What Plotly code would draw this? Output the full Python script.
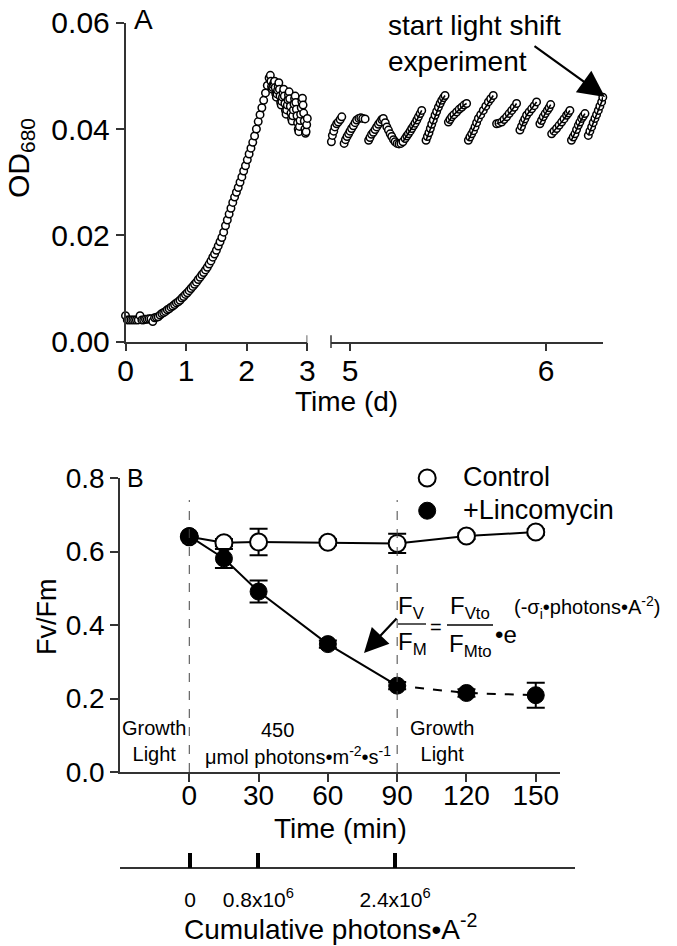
import plotly.graph_objects as go

W, H = 677, 946
def px(x): return x / W
def py(y): return 1 - y / H

# ---------------- Panel A data ----------------
seg1_t = [0.00,0.03,0.06,0.09,0.12,0.15,0.18,0.21,0.24,0.27,0.30,0.33,0.36,0.39,0.42,0.45,0.48,0.51,0.54,0.57,
          0.60,0.63,0.66,0.69,0.72,0.75,0.78,0.81,0.84,0.87,0.90,0.93,0.96,0.99,1.02,1.05,1.08,1.11,1.14,1.17,
          1.20,1.23,1.26,1.29,1.32,1.35,1.38,1.41,1.44,1.47,1.50,1.53,1.56,1.59,1.62,1.65,1.68,1.71,1.74,1.77,
          1.80,1.83,1.86,1.89,1.92,1.95,1.98,2.01,2.04,2.07,2.10,2.13,2.16,2.19,2.22,2.25,2.28,2.31,2.34,2.37,2.39,
          2.40,2.41,2.42,2.43,2.44,2.45,2.46,2.47,2.48,2.49,2.50,2.51,2.52,2.53,2.54,2.55,2.56,2.57,2.58,2.59,
          2.60,2.61,2.62,2.63,2.64,2.65,2.66,2.67,2.68,2.69,2.70,2.71,2.72,2.73,2.74,2.75,2.76,2.77,2.78,2.79,
          2.80,2.81,2.82,2.83,2.84,2.85,2.86,2.87,2.88,2.89,2.90,2.91,2.92,2.93,2.94,2.95,2.96,2.97,2.98,2.99,3.00]
seg1_od = [0.0049,0.0041,0.0041,0.0041,0.0041,0.0041,0.0041,0.0041,0.0049,0.0041,0.0041,0.0042,0.0042,0.0043,0.0043,0.0038,0.0045,0.0046,0.0047,0.0050,
           0.0053,0.0055,0.0057,0.0060,0.0062,0.0065,0.0067,0.0070,0.0073,0.0075,0.0078,0.0082,0.0085,0.0089,0.0092,0.0096,0.0100,0.0104,0.0108,0.0112,
           0.0117,0.0121,0.0126,0.0130,0.0135,0.0140,0.0146,0.0152,0.0159,0.0165,0.0172,0.0180,0.0188,0.0196,0.0206,0.0218,0.0229,0.0240,0.0251,0.0262,
           0.0272,0.0281,0.0290,0.0300,0.0310,0.0321,0.0331,0.0342,0.0353,0.0364,0.0375,0.0387,0.0400,0.0414,0.0427,0.0440,0.0454,0.0468,0.0482,0.0496,0.0501,
           0.0490,0.0480,0.0475,0.0478,0.0483,0.0487,0.0490,0.0478,0.0466,0.0460,0.0466,0.0473,0.0480,0.0487,0.0475,0.0462,0.0450,0.0445,0.0452,0.0460,
           0.0468,0.0475,0.0462,0.0448,0.0435,0.0428,0.0436,0.0445,0.0455,0.0464,0.0470,0.0457,0.0443,0.0430,0.0420,0.0415,0.0425,0.0436,0.0447,0.0457,
           0.0462,0.0450,0.0437,0.0425,0.0412,0.0400,0.0395,0.0405,0.0416,0.0428,0.0440,0.0452,0.0458,0.0445,0.0430,0.0415,0.0400,0.0392,0.0395,0.0408,0.0420]

# after the axis break: early arcs (circles only)
seg2a_t = [4.905,4.910,4.917,4.923,4.932,4.940,4.950,4.958,
           4.970,4.977,4.985,4.993,5.000,5.008,5.017,5.026,5.034,5.045,5.055,5.065,5.077,
           5.095,5.102,5.110,5.119,5.128,5.136,5.145,5.153,5.162,5.170,5.180,5.188,5.196,5.205,5.213,5.222,5.230,5.240,5.250,5.260]
seg2a_od = [0.0376,0.0388,0.0396,0.0404,0.0410,0.0413,0.0418,0.0423,
            0.0373,0.0380,0.0386,0.0391,0.0396,0.0401,0.0406,0.0412,0.0417,0.0420,0.0421,0.0420,0.0419,
            0.0379,0.0384,0.0390,0.0394,0.0399,0.0404,0.0409,0.0413,0.0418,0.0420,0.0412,0.0404,0.0398,0.0391,0.0386,0.0380,0.0376,0.0373,0.0372,0.0373]
# later dilution cycles (None separates cycles)
seg2b_t = [5.270,5.281,5.290,5.298,5.307,5.315,5.324,5.332,5.341,5.349,5.358,5.366, None,
           5.388,5.395,5.403,5.410,5.417,5.425,5.434,5.442,5.451,5.460,5.468,5.477,5.485, None,
           5.502,5.510,5.519,5.530,5.544,5.557,5.570,5.582,5.595, None,
           5.604,5.612,5.621,5.630,5.638,5.646,5.655,5.667,5.680,5.693,5.706,5.718,5.731, None,
           5.748,5.760,5.774,5.786,5.799,5.812,5.825,5.838,5.850, None,
           5.867,5.875,5.884,5.892,5.901,5.914,5.927,5.940,5.952, None,
           5.969,5.977,5.986,5.996,6.007,6.016,6.024, None,
           6.029,6.041,6.054,6.067,6.080,6.092,6.105,6.114,6.122, None,
           6.130,6.139,6.148,6.156,6.165,6.173,6.182,6.190,6.199, None,
           6.216,6.224,6.233,6.241,6.250,6.258,6.267,6.275,6.284,6.290]
seg2b_od = [0.0376,0.0382,0.0387,0.0391,0.0396,0.0401,0.0406,0.0411,0.0417,0.0423,0.0429,0.0435, None,
            0.0379,0.0386,0.0393,0.0401,0.0409,0.0417,0.0426,0.0433,0.0441,0.0448,0.0454,0.0459,0.0463, None,
            0.0413,0.0418,0.0423,0.0427,0.0432,0.0437,0.0441,0.0445,0.0448, None,
            0.0379,0.0385,0.0391,0.0397,0.0404,0.0412,0.0420,0.0427,0.0435,0.0443,0.0451,0.0457,0.0463, None,
            0.0410,0.0411,0.0413,0.0418,0.0423,0.0429,0.0435,0.0441,0.0448, None,
            0.0398,0.0405,0.0413,0.0419,0.0426,0.0432,0.0438,0.0444,0.0451, None,
            0.0410,0.0416,0.0423,0.0429,0.0435,0.0440,0.0446, None,
            0.0391,0.0396,0.0401,0.0407,0.0413,0.0419,0.0426,0.0430,0.0435, None,
            0.0379,0.0385,0.0391,0.0399,0.0407,0.0413,0.0420,0.0424,0.0429, None,
            0.0388,0.0396,0.0404,0.0412,0.0420,0.0427,0.0435,0.0443,0.0451,0.0460]

# ---------------- Panel B data ----------------
time_min = [0, 15, 30, 60, 90, 120, 150]
control = [0.640, 0.624, 0.626, 0.625, 0.622, 0.642, 0.653]
control_err = [0.0, 0.010, 0.036, 0.008, 0.026, 0.008, 0.008]
linc = [0.642, 0.581, 0.491, 0.348, 0.235, 0.215, 0.209]
linc_err = [0.0, 0.026, 0.030, 0.010, 0.010, 0.010, 0.034]
phase_bounds = [0, 90]

legend_labels = ["Control", "+Lincomycin"]
legend_x = [103, 103]
legend_y = [0.80, 0.711]

photon_ticks = [0, 0.8e6, 2.4e6]
photon_text = ["0", "0.8x10<sup>6</sup>", "2.4x10<sup>6</sup>"]

FONT = "Liberation Sans, Arial, Helvetica, sans-serif"
NARROW = "Liberation Sans Narrow, Arial Narrow, Liberation Sans, Arial, sans-serif"
AX = '#333333'

fig = go.Figure()

open_marker = dict(symbol='circle', size=7.5, color='white', line=dict(color='black', width=1.5))
fig.add_trace(go.Scatter(x=seg1_t, y=seg1_od, mode='markers', xaxis='x', yaxis='y',
                         marker=open_marker, showlegend=False, cliponaxis=False))
fig.add_trace(go.Scatter(x=seg2a_t, y=seg2a_od, mode='markers', xaxis='x2', yaxis='y',
                         marker=open_marker, showlegend=False, cliponaxis=False))
fig.add_trace(go.Scatter(x=seg2b_t, y=seg2b_od, mode='markers', xaxis='x2', yaxis='y',
                         marker=open_marker, showlegend=False, cliponaxis=False))
fig.add_trace(go.Scatter(x=seg2b_t, y=seg2b_od, mode='lines', xaxis='x2', yaxis='y', connectgaps=False,
                         line=dict(color='black', width=1.6), showlegend=False, cliponaxis=False))

# Panel B lines
fig.add_trace(go.Scatter(x=time_min, y=control, mode='lines', xaxis='x3', yaxis='y3',
                         line=dict(color='black', width=2), showlegend=False))
fig.add_trace(go.Scatter(x=time_min[:5], y=linc[:5], mode='lines', xaxis='x3', yaxis='y3',
                         line=dict(color='black', width=2), showlegend=False))
fig.add_trace(go.Scatter(x=time_min[4:], y=linc[4:], mode='lines', xaxis='x3', yaxis='y3',
                         line=dict(color='black', width=2, dash='dash'), showlegend=False))
fig.add_trace(go.Scatter(x=time_min, y=control, mode='markers', xaxis='x3', yaxis='y3',
                         marker=dict(symbol='circle', size=17, color='white', line=dict(color='black', width=2)),
                         error_y=dict(type='data', array=control_err, visible=True, color='black', thickness=2, width=9),
                         showlegend=False, cliponaxis=False))
fig.add_trace(go.Scatter(x=time_min, y=linc, mode='markers', xaxis='x3', yaxis='y3',
                         marker=dict(symbol='circle', size=17, color='black', line=dict(color='black', width=1)),
                         error_y=dict(type='data', array=linc_err, visible=True, color='black', thickness=2, width=9),
                         showlegend=False, cliponaxis=False))
# legend symbols
fig.add_trace(go.Scatter(x=legend_x[:1], y=legend_y[:1], mode='markers', xaxis='x3', yaxis='y3', showlegend=False,
                         cliponaxis=False,
                         marker=dict(symbol='circle', size=17, color='white', line=dict(color='black', width=2))))
fig.add_trace(go.Scatter(x=legend_x[1:], y=legend_y[1:], mode='markers', xaxis='x3', yaxis='y3', showlegend=False,
                         cliponaxis=False,
                         marker=dict(symbol='circle', size=17, color='black', line=dict(color='black', width=1))))
# carrier for the cumulative photon axis
fig.add_trace(go.Scatter(x=[photon_ticks[0]], y=[None], mode='markers', xaxis='x4', yaxis='y4',
                         showlegend=False, hoverinfo='skip'))

def axis_common(size, standoff=0):
    return dict(showline=True, linecolor=AX, linewidth=1.5, ticks='outside', ticklen=8, tickwidth=1.5,
                tickcolor=AX, showgrid=False, zeroline=False, automargin=False, ticklabelstandoff=standoff,
                tickfont=dict(size=size, color='black', family=FONT))

layout = dict(
    width=W, height=H, margin=dict(l=0, r=0, t=0, b=0), template='none',
    paper_bgcolor='white', plot_bgcolor='white', font=dict(family=FONT, color='black'),
    xaxis=dict(domain=[px(125.5), px(307.3)], range=[0, 3], anchor='y', tickvals=[0, 1, 2, 3],
               **axis_common(30, -6)),
    xaxis2=dict(domain=[px(331), px(603)], range=[4.903, 6.291], anchor='y', tickvals=[5, 6],
                **axis_common(30, -6)),
    yaxis=dict(domain=[py(341.7), py(22.7)], range=[0, 0.06], anchor='x', tickvals=[0, 0.02, 0.04, 0.06],
               tickformat='.2f', **axis_common(30)),
    xaxis3=dict(domain=[px(120), px(560)], range=[-30, 160.5], anchor='y3', tickvals=[0, 30, 60, 90, 120, 150],
                **axis_common(28, -10)),
    yaxis3=dict(domain=[py(772), py(478)], range=[0, 0.8], anchor='x3', tickvals=[0, 0.2, 0.4, 0.6, 0.8],
                tickformat='.1f', **axis_common(28)),
    xaxis4=dict(domain=[px(120), px(575)], range=[-0.8195e6, 4.507e6], anchor='y4', tickvals=photon_ticks,
                ticktext=photon_text, showline=True, linecolor=AX, linewidth=1.5, ticks='inside', ticklen=15,
                tickwidth=3.5, tickcolor='black', showgrid=False, zeroline=False, automargin=False,
                ticklabelstandoff=13, tickfont=dict(size=21, color='black', family=FONT)),
    yaxis4=dict(domain=[py(867.3), py(860)], range=[0, 1], anchor='x4', visible=False),
    showlegend=False,
)
fig.update_layout(**layout)

shapes = []
shapes.append(dict(type='line', xref='x', yref='y domain', x0=3, x1=3, y0=-0.02, y1=0.02,
                   line=dict(color=AX, width=1.5)))
shapes.append(dict(type='line', xref='x2 domain', yref='y domain', x0=0, x1=0, y0=-0.02, y1=0.02,
                   line=dict(color=AX, width=1.5)))
for b in phase_bounds:
    shapes.append(dict(type='line', xref='x3', yref='y3', x0=b, x1=b, y0=0, y1=0.74,
                       line=dict(color='#444444', width=1, dash='dash')))
shapes.append(dict(type='line', xref='paper', yref='paper', x0=px(398), x1=px(426), y0=py(624), y1=py(624),
                   line=dict(color='black', width=1.3)))
shapes.append(dict(type='line', xref='paper', yref='paper', x0=px(447), x1=px(493), y0=py(625), y1=py(625),
                   line=dict(color='black', width=1.3)))
fig.update_layout(shapes=shapes)

ann = []
def text(x, y, s, size, angle=0, xanchor='center', family=FONT, align='center'):
    ann.append(dict(xref='paper', yref='paper', x=px(x), y=py(y), text=s, showarrow=False,
                    font=dict(size=size, color='black', family=family), textangle=angle,
                    xanchor=xanchor, yanchor='middle', align=align))

text(143, 19, "A", 28)
text(346, 402, "Time (d)", 28)
text(20, 158, "OD<sub>680</sub>", 30, angle=-90)
text(386, 44, "start light shift<br>experiment", 28, xanchor='left', align='left')
text(135, 478, "B", 25)
text(47, 617, "Fv/Fm", 27, angle=-90)
text(340, 828, "Time (min)", 28)
text(330, 927, "Cumulative photons•A<sup>-2</sup>", 28)
text(154, 741, "Growth<br>Light", 20, family=NARROW)
text(442, 741, "Growth<br>Light", 20, family=NARROW)
text(277, 730, "450", 20, family=NARROW)
text(298, 755, "μmol photons•m<sup>-2</sup>•s<sup>-1</sup>", 20, family=NARROW)
for lab, yy in zip(legend_labels, [477, 510]):
    text(461, yy, lab, 27, xanchor='left')
# formula
text(411, 607, "F<sub>V</sub>", 24)
text(412, 643, "F<sub>M</sub>", 24)
text(436, 627, "=", 20)
text(470, 607, "F<sub>Vto</sub>", 24)
text(470, 645, "F<sub>Mto</sub>", 24)
text(493, 634, "•e", 24, xanchor='left')
text(512, 607, "(-σ<sub>i</sub>•photons•A<sup>-2</sup>)", 20, xanchor='left')

ann.append(dict(xref='paper', yref='paper', x=px(605), y=py(97), ax=-72, ay=-52, text='', showarrow=True,
                arrowhead=2, arrowsize=2.4, arrowwidth=2.2, arrowcolor='black'))
ann.append(dict(xref='paper', yref='paper', x=px(364), y=py(653), ax=34, ay=-36, text='', showarrow=True,
                arrowhead=2, arrowsize=2.2, arrowwidth=2.2, arrowcolor='black'))
fig.update_layout(annotations=ann)

fig.write_html("out.html", config={'displayModeBar': False},
               post_script="document.body.style.margin='0px';")
